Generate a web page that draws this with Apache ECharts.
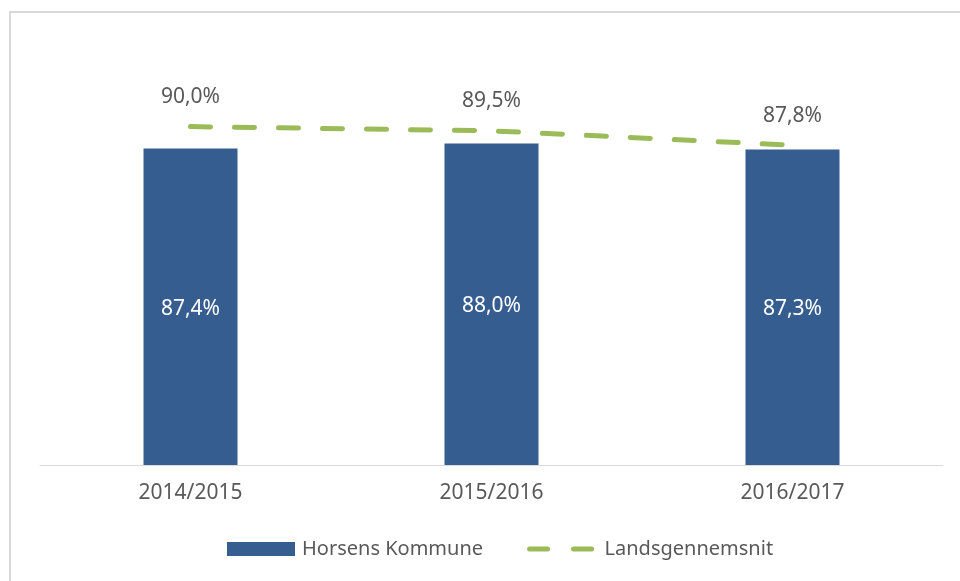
<!DOCTYPE html>
<html>
<head>
<meta charset="utf-8">
<script src="https://cdn.jsdelivr.net/npm/echarts@6/dist/echarts.min.js"></script>
<style>
  html, body { margin: 0; padding: 0; background: #fff; }
  #chart { width: 960px; height: 581px; }
</style>
</head>
<body>
<div id="chart"></div>
<script>
// skoleår
const categories = ['2014/2015', '2015/2016', '2016/2017']
// Horsens Kommune (søjler)
const horsensValues = [87.4, 88.0, 87.3]
// Landsgennemsnit (stiplet linje)
const landsValues = [90.0, 89.5, 87.8]

const fmtPct = (v) => v.toFixed(1).replace('.', ',') + '%'

const chart = echarts.init(document.getElementById('chart'))

const dashStyle = { color: '#9bbb59', width: 5, type: [20, 24], cap: 'round' }

const option = {
  backgroundColor: '#ffffff',
  animation: false,
  textStyle: { fontFamily: 'Noto Sans' },
  graphic: [
    {
      type: 'rect',
      shape: { x: 10, y: 12, width: 2000, height: 2000 },
      style: { fill: 'none', stroke: '#d9d9d9', lineWidth: 2 },
      silent: true
    }
  ],
  grid: { left: 40, right: 17, top: 42, bottom: 116 },
  legend: {
    bottom: 17,
    left: 222,
    itemWidth: 68,
    itemHeight: 14,
    itemGap: 44,
    textStyle: { fontSize: 20, color: '#595959', padding: [0, 0, 0, 2] },
    data: [
      { name: 'Horsens Kommune', icon: 'rect' },
      {
        name: 'Landsgennemsnit',
        itemStyle: { opacity: 0 },
        lineStyle: { color: '#9bbb59', width: 5, type: [18, 26], cap: 'round' }
      }
    ]
  },
  xAxis: {
    type: 'category',
    data: categories,
    axisLine: { lineStyle: { color: '#d9d9d9', width: 1 } },
    axisTick: { show: false },
    axisLabel: { color: '#595959', fontSize: 21, margin: 18 }
  },
  yAxis: {
    type: 'value',
    min: 50,
    max: 100,
    show: false,
    splitLine: { show: false }
  },
  series: [
    {
      name: 'Horsens Kommune',
      type: 'bar',
      data: horsensValues,
      barWidth: 94,
      itemStyle: { color: '#355d8f' },
      label: {
        show: true,
        position: 'inside',
        color: '#ffffff',
        fontSize: 21,
        offset: [0, 2],
        formatter: (p) => fmtPct(p.value)
      }
    },
    {
      name: 'Landsgennemsnit',
      type: 'line',
      data: landsValues,
      symbol: 'circle',
      symbolSize: 0,
      showSymbol: true,
      lineStyle: dashStyle,
      itemStyle: { color: '#9bbb59' },
      label: {
        show: true,
        position: 'top',
        distance: 19,
        color: '#595959',
        fontSize: 21,
        formatter: (p) => fmtPct(p.value)
      }
    }
  ]
}

chart.setOption(option)
</script>
</body>
</html>
